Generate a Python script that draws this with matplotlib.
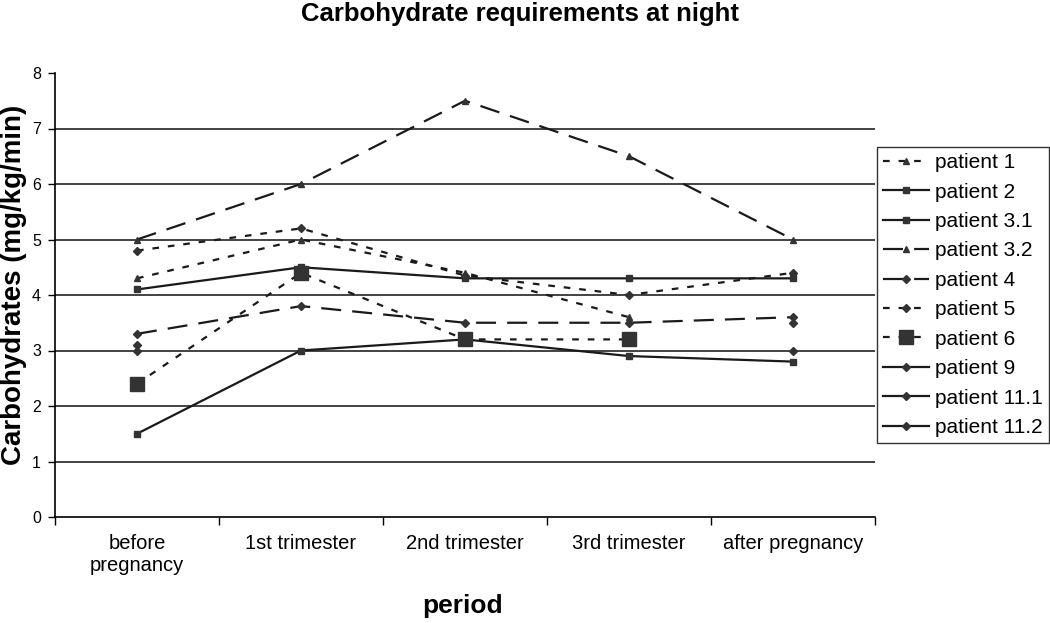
import numpy as np
import matplotlib
matplotlib.use("Agg")
import matplotlib.pyplot as plt

plt.rcParams['font.family'] = ['Liberation Sans', 'DejaVu Sans']

periods = ["before\npregnancy", "1st trimester", "2nd trimester", "3rd trimester", "after pregnancy"]
nan = np.nan
patient_1 = [4.3, 5.0, 4.4, 3.6, nan]
patient_2 = [4.1, 4.5, 4.3, 4.3, 4.3]
patient_3_1 = [1.5, 3.0, 3.2, 2.9, 2.8]
patient_3_2 = [5.0, 6.0, 7.5, 6.5, 5.0]
patient_4 = [3.3, 3.8, 3.5, 3.5, 3.6]
patient_5 = [4.8, 5.2, 4.35, 4.0, 4.4]
patient_6 = [2.4, 4.4, 3.2, 3.2, nan]
patient_9 = [3.1, nan, nan, nan, 3.5]
patient_11_1 = [3.0, nan, nan, nan, nan]
patient_11_2 = [nan, nan, nan, nan, 3.0]

series = [
    ("patient 1", patient_1, (0, (3, 4)), "^", 5),
    ("patient 2", patient_2, "-", "s", 5),
    ("patient 3.1", patient_3_1, "-", "s", 5),
    ("patient 3.2", patient_3_2, (0, (9, 5)), "^", 5),
    ("patient 4", patient_4, (0, (9, 5)), "D", 4),
    ("patient 5", patient_5, (0, (3, 4)), "D", 4),
    ("patient 6", patient_6, (0, (3, 4)), "s", 10),
    ("patient 9", patient_9, "-", "D", 4),
    ("patient 11.1", patient_11_1, "-", "D", 4),
    ("patient 11.2", patient_11_2, "-", "D", 4),
]

fig = plt.figure(figsize=(10.5, 6.23), dpi=100)
ax = fig.add_axes([55/1050, 1-517/623, (875-55)/1050, (517-73)/623])

x = np.arange(len(periods))
for name, vals, ls, mk, ms in series:
    ax.plot(x, vals, linestyle=ls, marker=mk, markersize=ms, color="#1a1a1a",
            markerfacecolor="#333333", markeredgecolor="#333333", linewidth=1.6, label=name)

ax.set_xlim(-0.5, 4.5)
ax.set_ylim(0, 8)
ax.set_yticks(range(0, 9))
ax.set_xticks(x)
ax.set_xticklabels(periods, fontsize=14.5)
ax.tick_params(axis='x', which='major', length=0, pad=12)
ax.set_xticks(np.arange(-0.5, 5.0, 1.0), minor=True)
ax.tick_params(axis='x', which='minor', length=6, direction='out', width=1)
ax.tick_params(axis='y', length=5, direction='out', labelsize=11.5, width=1, pad=5)
for v in range(1, 8):
    ax.axhline(v, color="#222222", linewidth=1.2, zorder=0)
for s in ["top", "right"]:
    ax.spines[s].set_visible(False)
ax.spines["left"].set_linewidth(1.2)
ax.spines["bottom"].set_linewidth(1.2)

fig.text(520/1050, 1-14/623, "Carbohydrate requirements at night", ha="center", va="center",
         fontsize=18.5, fontweight="bold")
fig.text(0.001, 1-285/623, "Carbohydrates (mg/kg/min)", rotation=90, ha="left", va="center",
         fontsize=20, fontweight="bold")
fig.text(463/1050, 1-606/623, "period", ha="center", va="center", fontsize=19, fontweight="bold")

leg = fig.legend(loc="upper left", bbox_to_anchor=(877/1050, 1-147/623), fontsize=15,
                 frameon=True, fancybox=False, edgecolor="black", handlelength=2.2,
                 labelspacing=0.5, borderaxespad=0, handletextpad=0.3, borderpad=0.3)
leg.get_frame().set_linewidth(1.0)

fig.savefig("out.png", dpi=100)
